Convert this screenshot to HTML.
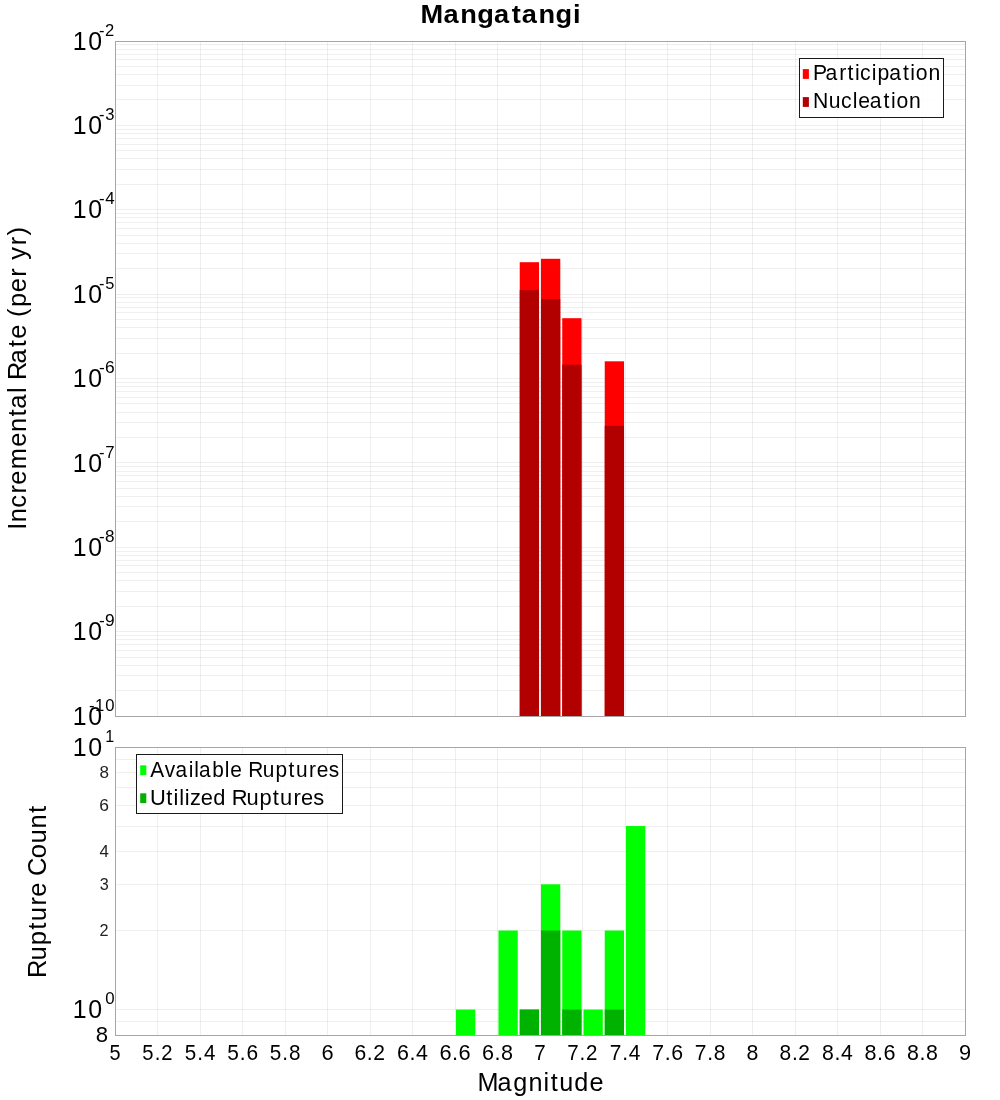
<!DOCTYPE html>
<html><head><meta charset="utf-8"><title>Mangatangi</title>
<style>html,body{margin:0;padding:0;background:#fff;}svg{display:block;will-change:transform;}text{font-family:"Liberation Sans",sans-serif;font-kerning:none;white-space:pre;}</style></head>
<body><svg width="1000" height="1100" viewBox="0 0 1000 1100">
<rect x="0" y="0" width="1000" height="1100" fill="#ffffff"/>
<g shape-rendering="crispEdges">
<rect x="115" y="41" width="850" height="675" fill="#fff"/>
<rect x="157" y="41" width="1" height="675" fill="#000" fill-opacity="0.064"/>
<rect x="200" y="41" width="1" height="675" fill="#000" fill-opacity="0.064"/>
<rect x="242" y="41" width="1" height="675" fill="#000" fill-opacity="0.064"/>
<rect x="285" y="41" width="1" height="675" fill="#000" fill-opacity="0.064"/>
<rect x="327" y="41" width="1" height="675" fill="#000" fill-opacity="0.064"/>
<rect x="370" y="41" width="1" height="675" fill="#000" fill-opacity="0.064"/>
<rect x="412" y="41" width="1" height="675" fill="#000" fill-opacity="0.064"/>
<rect x="455" y="41" width="1" height="675" fill="#000" fill-opacity="0.064"/>
<rect x="497" y="41" width="1" height="675" fill="#000" fill-opacity="0.064"/>
<rect x="540" y="41" width="1" height="675" fill="#000" fill-opacity="0.064"/>
<rect x="582" y="41" width="1" height="675" fill="#000" fill-opacity="0.064"/>
<rect x="625" y="41" width="1" height="675" fill="#000" fill-opacity="0.064"/>
<rect x="667" y="41" width="1" height="675" fill="#000" fill-opacity="0.064"/>
<rect x="710" y="41" width="1" height="675" fill="#000" fill-opacity="0.064"/>
<rect x="752" y="41" width="1" height="675" fill="#000" fill-opacity="0.064"/>
<rect x="795" y="41" width="1" height="675" fill="#000" fill-opacity="0.064"/>
<rect x="837" y="41" width="1" height="675" fill="#000" fill-opacity="0.064"/>
<rect x="880" y="41" width="1" height="675" fill="#000" fill-opacity="0.064"/>
<rect x="922" y="41" width="1" height="675" fill="#000" fill-opacity="0.064"/>
<rect x="115" y="125" width="850" height="1" fill="#000" fill-opacity="0.064"/>
<rect x="115" y="99" width="850" height="1" fill="#000" fill-opacity="0.064"/>
<rect x="115" y="85" width="850" height="1" fill="#000" fill-opacity="0.064"/>
<rect x="115" y="74" width="850" height="1" fill="#000" fill-opacity="0.064"/>
<rect x="115" y="66" width="850" height="1" fill="#000" fill-opacity="0.064"/>
<rect x="115" y="59" width="850" height="1" fill="#000" fill-opacity="0.064"/>
<rect x="115" y="54" width="850" height="1" fill="#000" fill-opacity="0.064"/>
<rect x="115" y="49" width="850" height="1" fill="#000" fill-opacity="0.064"/>
<rect x="115" y="44" width="850" height="1" fill="#000" fill-opacity="0.064"/>
<rect x="115" y="209" width="850" height="1" fill="#000" fill-opacity="0.064"/>
<rect x="115" y="184" width="850" height="1" fill="#000" fill-opacity="0.064"/>
<rect x="115" y="169" width="850" height="1" fill="#000" fill-opacity="0.064"/>
<rect x="115" y="158" width="850" height="1" fill="#000" fill-opacity="0.064"/>
<rect x="115" y="150" width="850" height="1" fill="#000" fill-opacity="0.064"/>
<rect x="115" y="144" width="850" height="1" fill="#000" fill-opacity="0.064"/>
<rect x="115" y="138" width="850" height="1" fill="#000" fill-opacity="0.064"/>
<rect x="115" y="133" width="850" height="1" fill="#000" fill-opacity="0.064"/>
<rect x="115" y="129" width="850" height="1" fill="#000" fill-opacity="0.064"/>
<rect x="115" y="294" width="850" height="1" fill="#000" fill-opacity="0.064"/>
<rect x="115" y="268" width="850" height="1" fill="#000" fill-opacity="0.064"/>
<rect x="115" y="253" width="850" height="1" fill="#000" fill-opacity="0.064"/>
<rect x="115" y="243" width="850" height="1" fill="#000" fill-opacity="0.064"/>
<rect x="115" y="235" width="850" height="1" fill="#000" fill-opacity="0.064"/>
<rect x="115" y="228" width="850" height="1" fill="#000" fill-opacity="0.064"/>
<rect x="115" y="222" width="850" height="1" fill="#000" fill-opacity="0.064"/>
<rect x="115" y="217" width="850" height="1" fill="#000" fill-opacity="0.064"/>
<rect x="115" y="213" width="850" height="1" fill="#000" fill-opacity="0.064"/>
<rect x="115" y="378" width="850" height="1" fill="#000" fill-opacity="0.064"/>
<rect x="115" y="353" width="850" height="1" fill="#000" fill-opacity="0.064"/>
<rect x="115" y="338" width="850" height="1" fill="#000" fill-opacity="0.064"/>
<rect x="115" y="327" width="850" height="1" fill="#000" fill-opacity="0.064"/>
<rect x="115" y="319" width="850" height="1" fill="#000" fill-opacity="0.064"/>
<rect x="115" y="312" width="850" height="1" fill="#000" fill-opacity="0.064"/>
<rect x="115" y="307" width="850" height="1" fill="#000" fill-opacity="0.064"/>
<rect x="115" y="302" width="850" height="1" fill="#000" fill-opacity="0.064"/>
<rect x="115" y="297" width="850" height="1" fill="#000" fill-opacity="0.064"/>
<rect x="115" y="462" width="850" height="1" fill="#000" fill-opacity="0.064"/>
<rect x="115" y="437" width="850" height="1" fill="#000" fill-opacity="0.064"/>
<rect x="115" y="422" width="850" height="1" fill="#000" fill-opacity="0.064"/>
<rect x="115" y="412" width="850" height="1" fill="#000" fill-opacity="0.064"/>
<rect x="115" y="403" width="850" height="1" fill="#000" fill-opacity="0.064"/>
<rect x="115" y="397" width="850" height="1" fill="#000" fill-opacity="0.064"/>
<rect x="115" y="391" width="850" height="1" fill="#000" fill-opacity="0.064"/>
<rect x="115" y="386" width="850" height="1" fill="#000" fill-opacity="0.064"/>
<rect x="115" y="382" width="850" height="1" fill="#000" fill-opacity="0.064"/>
<rect x="115" y="547" width="850" height="1" fill="#000" fill-opacity="0.064"/>
<rect x="115" y="521" width="850" height="1" fill="#000" fill-opacity="0.064"/>
<rect x="115" y="506" width="850" height="1" fill="#000" fill-opacity="0.064"/>
<rect x="115" y="496" width="850" height="1" fill="#000" fill-opacity="0.064"/>
<rect x="115" y="488" width="850" height="1" fill="#000" fill-opacity="0.064"/>
<rect x="115" y="481" width="850" height="1" fill="#000" fill-opacity="0.064"/>
<rect x="115" y="475" width="850" height="1" fill="#000" fill-opacity="0.064"/>
<rect x="115" y="471" width="850" height="1" fill="#000" fill-opacity="0.064"/>
<rect x="115" y="466" width="850" height="1" fill="#000" fill-opacity="0.064"/>
<rect x="115" y="631" width="850" height="1" fill="#000" fill-opacity="0.064"/>
<rect x="115" y="606" width="850" height="1" fill="#000" fill-opacity="0.064"/>
<rect x="115" y="591" width="850" height="1" fill="#000" fill-opacity="0.064"/>
<rect x="115" y="580" width="850" height="1" fill="#000" fill-opacity="0.064"/>
<rect x="115" y="572" width="850" height="1" fill="#000" fill-opacity="0.064"/>
<rect x="115" y="565" width="850" height="1" fill="#000" fill-opacity="0.064"/>
<rect x="115" y="560" width="850" height="1" fill="#000" fill-opacity="0.064"/>
<rect x="115" y="555" width="850" height="1" fill="#000" fill-opacity="0.064"/>
<rect x="115" y="551" width="850" height="1" fill="#000" fill-opacity="0.064"/>
<rect x="115" y="690" width="850" height="1" fill="#000" fill-opacity="0.064"/>
<rect x="115" y="675" width="850" height="1" fill="#000" fill-opacity="0.064"/>
<rect x="115" y="665" width="850" height="1" fill="#000" fill-opacity="0.064"/>
<rect x="115" y="657" width="850" height="1" fill="#000" fill-opacity="0.064"/>
<rect x="115" y="650" width="850" height="1" fill="#000" fill-opacity="0.064"/>
<rect x="115" y="644" width="850" height="1" fill="#000" fill-opacity="0.064"/>
<rect x="115" y="639" width="850" height="1" fill="#000" fill-opacity="0.064"/>
<rect x="115" y="635" width="850" height="1" fill="#000" fill-opacity="0.064"/>
</g>
<rect x="519.73" y="262.20" width="19.30" height="453.80" fill="#ff0000"/>
<rect x="519.73" y="290.10" width="19.30" height="425.90" fill="#b20000"/>
<rect x="540.98" y="258.80" width="19.30" height="457.20" fill="#ff0000"/>
<rect x="540.98" y="299.00" width="19.30" height="417.00" fill="#b20000"/>
<rect x="562.23" y="318.20" width="19.30" height="397.80" fill="#ff0000"/>
<rect x="562.23" y="364.70" width="19.30" height="351.30" fill="#b20000"/>
<rect x="604.73" y="361.30" width="19.30" height="354.70" fill="#ff0000"/>
<rect x="604.73" y="425.80" width="19.30" height="290.20" fill="#b20000"/>
<g shape-rendering="crispEdges">
<rect x="115" y="747" width="850" height="288" fill="#fff"/>
<rect x="157" y="747" width="1" height="288" fill="#000" fill-opacity="0.064"/>
<rect x="200" y="747" width="1" height="288" fill="#000" fill-opacity="0.064"/>
<rect x="242" y="747" width="1" height="288" fill="#000" fill-opacity="0.064"/>
<rect x="285" y="747" width="1" height="288" fill="#000" fill-opacity="0.064"/>
<rect x="327" y="747" width="1" height="288" fill="#000" fill-opacity="0.064"/>
<rect x="370" y="747" width="1" height="288" fill="#000" fill-opacity="0.064"/>
<rect x="412" y="747" width="1" height="288" fill="#000" fill-opacity="0.064"/>
<rect x="455" y="747" width="1" height="288" fill="#000" fill-opacity="0.064"/>
<rect x="497" y="747" width="1" height="288" fill="#000" fill-opacity="0.064"/>
<rect x="540" y="747" width="1" height="288" fill="#000" fill-opacity="0.064"/>
<rect x="582" y="747" width="1" height="288" fill="#000" fill-opacity="0.064"/>
<rect x="625" y="747" width="1" height="288" fill="#000" fill-opacity="0.064"/>
<rect x="667" y="747" width="1" height="288" fill="#000" fill-opacity="0.064"/>
<rect x="710" y="747" width="1" height="288" fill="#000" fill-opacity="0.064"/>
<rect x="752" y="747" width="1" height="288" fill="#000" fill-opacity="0.064"/>
<rect x="795" y="747" width="1" height="288" fill="#000" fill-opacity="0.064"/>
<rect x="837" y="747" width="1" height="288" fill="#000" fill-opacity="0.064"/>
<rect x="880" y="747" width="1" height="288" fill="#000" fill-opacity="0.064"/>
<rect x="922" y="747" width="1" height="288" fill="#000" fill-opacity="0.064"/>
<rect x="115" y="1021" width="850" height="1" fill="#000" fill-opacity="0.064"/>
<rect x="115" y="1009" width="850" height="1" fill="#000" fill-opacity="0.064"/>
<rect x="115" y="930" width="850" height="1" fill="#000" fill-opacity="0.064"/>
<rect x="115" y="884" width="850" height="1" fill="#000" fill-opacity="0.064"/>
<rect x="115" y="851" width="850" height="1" fill="#000" fill-opacity="0.064"/>
<rect x="115" y="826" width="850" height="1" fill="#000" fill-opacity="0.064"/>
<rect x="115" y="805" width="850" height="1" fill="#000" fill-opacity="0.064"/>
<rect x="115" y="787" width="850" height="1" fill="#000" fill-opacity="0.064"/>
<rect x="115" y="772" width="850" height="1" fill="#000" fill-opacity="0.064"/>
<rect x="115" y="759" width="850" height="1" fill="#000" fill-opacity="0.064"/>
</g>
<rect x="455.98" y="1009.56" width="19.30" height="25.44" fill="#00ff00"/>
<rect x="498.47" y="930.52" width="19.30" height="104.48" fill="#00ff00"/>
<rect x="519.73" y="1009.56" width="19.30" height="25.44" fill="#00ff00"/>
<rect x="519.73" y="1009.56" width="19.30" height="25.44" fill="#00b200"/>
<rect x="540.98" y="884.28" width="19.30" height="150.72" fill="#00ff00"/>
<rect x="540.98" y="930.52" width="19.30" height="104.48" fill="#00b200"/>
<rect x="562.23" y="930.52" width="19.30" height="104.48" fill="#00ff00"/>
<rect x="562.23" y="1009.56" width="19.30" height="25.44" fill="#00b200"/>
<rect x="583.48" y="1009.56" width="19.30" height="25.44" fill="#00ff00"/>
<rect x="604.73" y="930.52" width="19.30" height="104.48" fill="#00ff00"/>
<rect x="604.73" y="1009.56" width="19.30" height="25.44" fill="#00b200"/>
<rect x="625.98" y="826.04" width="19.30" height="208.96" fill="#00ff00"/>
<rect x="115.5" y="41.5" width="850" height="675" fill="none" stroke="#a6a6a6" stroke-width="1" shape-rendering="crispEdges"/>
<rect x="115.5" y="747.5" width="850" height="288" fill="none" stroke="#a6a6a6" stroke-width="1" shape-rendering="crispEdges"/>
<rect x="799.5" y="58.5" width="144" height="59" fill="#ffffff" fill-opacity="0.88" stroke="#1a1a1a" stroke-width="1" shape-rendering="crispEdges"/>
<rect x="802.8" y="69.1" width="6.1" height="9.8" fill="#ff0000"/>
<rect x="802.8" y="97.1" width="6.1" height="9.8" fill="#b20000"/>
<rect x="136.5" y="754.5" width="206" height="59" fill="#ffffff" fill-opacity="0.88" stroke="#1a1a1a" stroke-width="1" shape-rendering="crispEdges"/>
<rect x="140.2" y="765.3" width="6.1" height="9.8" fill="#00ff00"/>
<rect x="140.2" y="793.3" width="6.1" height="9.8" fill="#00b200"/>
<text transform="translate(422.40 22.60) scale(1.0708 1)" x="-1.70 19.71 35.44 51.33 66.88 83.40 92.75 108.48 124.38 140.61" font-size="25.43" font-weight="bold" fill="#000">Mangatangi</text>
<text transform="translate(479.50 1090.70) scale(0.9925 1)" x="-2.09 18.20 33.91 49.31 64.43 71.68 80.44 95.55 110.72" font-size="25.43" font-weight="normal" fill="#000">Magnitude</text>
<text transform="translate(26.20 527.50) rotate(-90) scale(1.0007 1)" x="-2.35 5.20 19.63 33.90 42.85 58.23 80.61 95.45 111.05 118.61 134.34 140.46 147.46 163.82 180.14 188.67 203.01 210.31 220.43 235.19 250.61 259.28 267.50 281.99 291.70" font-size="25.43" font-weight="normal" fill="#000">Incremental Rate (per yr)</text>
<text transform="translate(46.40 975.80) rotate(-90) scale(1.0050 1)" x="-2.09 15.23 30.34 45.74 54.28 69.89 78.73 92.99 99.35 117.00 131.59 146.60 162.08" font-size="25.43" font-weight="normal" fill="#000">Rupture Count</text>
<text transform="translate(814.80 79.80) scale(0.9996 1)" x="-1.74 10.62 24.47 32.72 40.14 45.31 56.86 62.65 74.36 88.17 95.58 101.02 113.64" font-size="21.19" font-weight="normal" fill="#000">Participation</text>
<text transform="translate(814.80 107.70) scale(0.9983 1)" x="-1.74 13.97 26.35 37.92 43.46 55.09 68.92 76.35 81.82 94.47" font-size="21.19" font-weight="normal" fill="#000">Nucleation</text>
<text transform="translate(150.40 776.80) scale(0.9851 1)" x="-0.04 14.67 25.52 38.86 44.48 49.21 62.74 75.40 80.96 93.05 99.21 114.06 127.09 140.27 147.73 161.12 168.81 181.02" font-size="21.19" font-weight="normal" fill="#000">Available Ruptures</text>
<text transform="translate(151.70 804.90) scale(1.0325 1)" x="-1.63 14.00 21.20 26.61 32.05 37.04 47.52 59.58 71.78 77.43 91.82 104.37 117.18 124.26 137.24 144.58 156.37" font-size="21.19" font-weight="normal" fill="#000">Utilized Ruptures</text>
<text transform="translate(74.70 50.00) scale(0.9770 1)" x="-1.94 13.87" font-size="25.43" font-weight="normal" fill="#000">10</text>
<text transform="translate(99.83 35.90) scale(0.9793 1)" x="-0.75 5.28" font-size="16.95" font-weight="normal" fill="#000">-2</text>
<text transform="translate(74.70 134.00) scale(0.9770 1)" x="-1.94 13.87" font-size="25.43" font-weight="normal" fill="#000">10</text>
<text transform="translate(99.83 119.90) scale(0.9765 1)" x="-0.75 5.54" font-size="16.95" font-weight="normal" fill="#000">-3</text>
<text transform="translate(74.70 218.00) scale(0.9770 1)" x="-1.94 13.87" font-size="25.43" font-weight="normal" fill="#000">10</text>
<text transform="translate(99.83 203.90) scale(1.0023 1)" x="-0.75 5.31" font-size="16.95" font-weight="normal" fill="#000">-4</text>
<text transform="translate(74.70 303.00) scale(0.9770 1)" x="-1.94 13.87" font-size="25.43" font-weight="normal" fill="#000">10</text>
<text transform="translate(99.83 288.90) scale(0.9656 1)" x="-0.75 5.55" font-size="16.95" font-weight="normal" fill="#000">-5</text>
<text transform="translate(74.70 387.00) scale(0.9770 1)" x="-1.94 13.87" font-size="25.43" font-weight="normal" fill="#000">10</text>
<text transform="translate(99.83 372.90) scale(1.0254 1)" x="-0.75 5.13" font-size="16.95" font-weight="normal" fill="#000">-6</text>
<text transform="translate(74.70 472.00) scale(0.9770 1)" x="-1.94 13.87" font-size="25.43" font-weight="normal" fill="#000">10</text>
<text transform="translate(99.83 457.90) scale(0.9886 1)" x="-0.75 5.39" font-size="16.95" font-weight="normal" fill="#000">-7</text>
<text transform="translate(74.70 556.00) scale(0.9770 1)" x="-1.94 13.87" font-size="25.43" font-weight="normal" fill="#000">10</text>
<text transform="translate(99.83 541.90) scale(1.0096 1)" x="-0.75 5.25" font-size="16.95" font-weight="normal" fill="#000">-8</text>
<text transform="translate(74.70 640.00) scale(0.9770 1)" x="-1.94 13.87" font-size="25.43" font-weight="normal" fill="#000">10</text>
<text transform="translate(99.83 625.90) scale(1.0240 1)" x="-0.75 5.09" font-size="16.95" font-weight="normal" fill="#000">-9</text>
<text transform="translate(74.70 725.00) scale(0.9770 1)" x="-1.94 13.87" font-size="25.43" font-weight="normal" fill="#000">10</text>
<text transform="translate(89.65 710.90) scale(0.9829 1)" x="-0.75 5.44 15.95" font-size="16.95" font-weight="normal" fill="#000">-10</text>
<text transform="translate(74.70 756.00) scale(0.9807 1)" x="-1.94 13.87" font-size="25.43" font-weight="normal" fill="#000">10</text>
<text transform="translate(106.58 742.00) scale(0.9502 1)" x="-1.29" font-size="16.95" font-weight="normal" fill="#000">1</text>
<text transform="translate(74.70 1018.00) scale(0.9807 1)" x="-1.94 13.87" font-size="25.43" font-weight="normal" fill="#000">10</text>
<text transform="translate(105.88 1003.90) scale(0.9948 1)" x="-0.66" font-size="16.95" font-weight="normal" fill="#000">0</text>
<text transform="translate(100.21 777.74) scale(1.0056 1)" x="-0.74" font-size="16.95" font-weight="normal" fill="#222">8</text>
<text transform="translate(100.24 810.55) scale(1.0296 1)" x="-0.86" font-size="16.95" font-weight="normal" fill="#222">6</text>
<text transform="translate(99.90 856.78) scale(0.9949 1)" x="-0.39" font-size="16.95" font-weight="normal" fill="#222">4</text>
<text transform="translate(100.34 889.58) scale(0.9554 1)" x="-0.65" font-size="16.95" font-weight="normal" fill="#222">3</text>
<text transform="translate(100.29 935.82) scale(0.9589 1)" x="-0.85" font-size="16.95" font-weight="normal" fill="#222">2</text>
<text transform="translate(96.80 1041.80) scale(1.0458 1)" x="-0.92" font-size="21.19" font-weight="normal" fill="#000">8</text>
<text transform="translate(110.18 1059.70) scale(0.9389 1)" x="-0.85" font-size="21.19" font-weight="normal" fill="#000">5</text>
<text transform="translate(143.14 1059.70) scale(0.9554 1)" x="-0.85 12.13 18.86" font-size="21.19" font-weight="normal" fill="#000">5.2</text>
<text transform="translate(185.64 1059.70) scale(0.9725 1)" x="-0.85 11.96 18.80" font-size="21.19" font-weight="normal" fill="#000">5.4</text>
<text transform="translate(228.14 1059.70) scale(0.9871 1)" x="-0.85 11.82 18.53" font-size="21.19" font-weight="normal" fill="#000">5.6</text>
<text transform="translate(270.64 1059.70) scale(0.9766 1)" x="-0.85 11.92 18.72" font-size="21.19" font-weight="normal" fill="#000">5.8</text>
<text transform="translate(322.53 1059.70) scale(1.0296 1)" x="-1.08" font-size="21.19" font-weight="normal" fill="#000">6</text>
<text transform="translate(355.49 1059.70) scale(0.9970 1)" x="-1.08 11.42 17.77" font-size="21.19" font-weight="normal" fill="#000">6.2</text>
<text transform="translate(397.99 1059.70) scale(1.0124 1)" x="-1.08 11.29 17.76" font-size="21.19" font-weight="normal" fill="#000">6.4</text>
<text transform="translate(440.49 1059.70) scale(1.0288 1)" x="-1.08 11.15 17.48" font-size="21.19" font-weight="normal" fill="#000">6.6</text>
<text transform="translate(482.99 1059.70) scale(1.0179 1)" x="-1.08 11.24 17.67" font-size="21.19" font-weight="normal" fill="#000">6.8</text>
<text transform="translate(535.28 1059.70) scale(0.9731 1)" x="-1.09" font-size="21.19" font-weight="normal" fill="#000">7</text>
<text transform="translate(568.24 1059.70) scale(0.9712 1)" x="-1.09 11.70 18.28" font-size="21.19" font-weight="normal" fill="#000">7.2</text>
<text transform="translate(610.74 1059.70) scale(0.9879 1)" x="-1.09 11.54 18.23" font-size="21.19" font-weight="normal" fill="#000">7.4</text>
<text transform="translate(653.24 1059.70) scale(1.0034 1)" x="-1.09 11.40 17.95" font-size="21.19" font-weight="normal" fill="#000">7.6</text>
<text transform="translate(695.74 1059.70) scale(0.9926 1)" x="-1.09 11.50 18.15" font-size="21.19" font-weight="normal" fill="#000">7.8</text>
<text transform="translate(747.50 1059.70) scale(1.0056 1)" x="-0.92" font-size="21.19" font-weight="normal" fill="#000">8</text>
<text transform="translate(780.45 1059.70) scale(0.9862 1)" x="-0.92 11.68 18.12" font-size="21.19" font-weight="normal" fill="#000">8.2</text>
<text transform="translate(822.95 1059.70) scale(1.0020 1)" x="-0.92 11.54 18.10" font-size="21.19" font-weight="normal" fill="#000">8.4</text>
<text transform="translate(865.45 1059.70) scale(1.0179 1)" x="-0.92 11.40 17.82" font-size="21.19" font-weight="normal" fill="#000">8.6</text>
<text transform="translate(907.95 1059.70) scale(1.0070 1)" x="-0.92 11.49 18.01" font-size="21.19" font-weight="normal" fill="#000">8.8</text>
<text transform="translate(959.90 1059.70) scale(1.0275 1)" x="-0.99" font-size="21.19" font-weight="normal" fill="#000">9</text>
</svg></body></html>
